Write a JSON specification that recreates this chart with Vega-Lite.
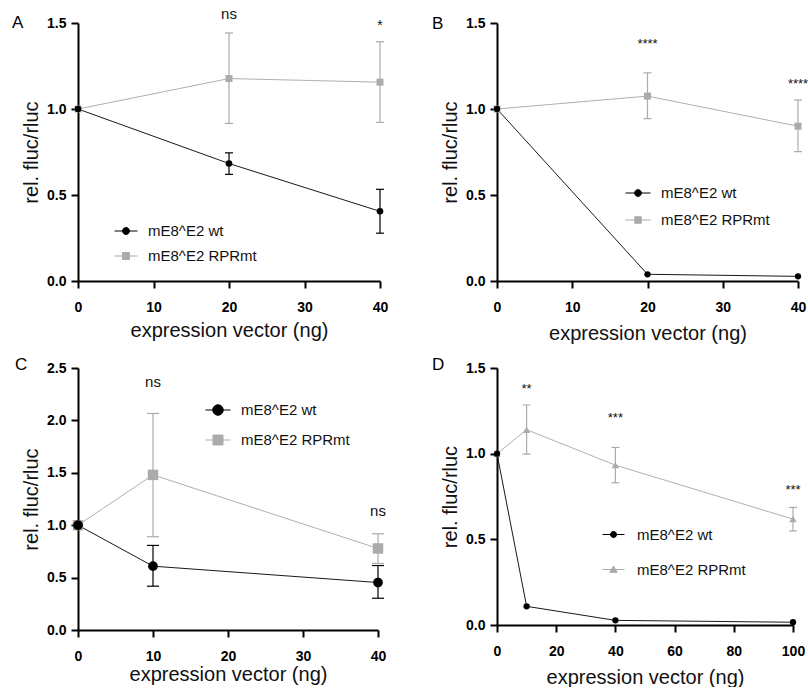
{
  "$schema": "https://vega.github.io/schema/vega-lite/v6.json",
  "background": "white",
  "padding": {"left": 12, "top": 7, "right": 0, "bottom": 0},
  "bounds": "flush",
  "columns": 2,
  "spacing": {"row": 87, "column": 117},
  "resolve": {
    "scale": {"fill": "independent", "stroke": "independent", "shape": "independent"},
    "legend": {"fill": "independent", "stroke": "independent", "shape": "independent"}
  },
  "config": {
    "font": "Liberation Sans",
    "view": {"stroke": null},
    "axis": {"domainColor": "#000", "domainWidth": 2, "tickColor": "#000", "tickWidth": 2, "tickSize": 7, "labelFontSize": 14, "labelFontWeight": "bold", "labelColor": "#000", "titleFontWeight": "normal", "titleColor": "#111", "grid": false, "labelFlush": false, "labelOverlap": false},
    "axisX": {"labelPadding": 12, "titleFontSize": 20, "titlePadding": 6, "format": "d"},
    "axisY": {"labelPadding": 5, "titleFontSize": 20, "titlePadding": 5, "format": ".1f"},
    "legend": {"padding": 0, "symbolStrokeWidth": 1, "symbolOpacity": 1, "labelFontSize": 15, "labelColor": "#111", "labelOffset": 10, "labelFont": "Liberation Sans", "labelLimit": 300},
    "title": {"anchor": "start", "frame": "group", "baseline": "alphabetic", "fontSize": 17, "fontWeight": "normal", "color": "#000"}
  },
  "concat": [
    {
      "width": 302, "height": 258,
      "title": {"text": "A", "dx": -66, "offset": -25},
      "data": {"values": [
        {"series": "mE8^E2 RPRmt", "x": 0, "y": 1.0, "lo": null, "hi": null},
        {"series": "mE8^E2 RPRmt", "x": 20, "y": 1.177, "lo": 0.916, "hi": 1.442},
        {"series": "mE8^E2 RPRmt", "x": 40, "y": 1.156, "lo": 0.922, "hi": 1.391},
        {"series": "mE8^E2 wt", "x": 0, "y": 1.0, "lo": null, "hi": null},
        {"series": "mE8^E2 wt", "x": 20, "y": 0.683, "lo": 0.62, "hi": 0.745},
        {"series": "mE8^E2 wt", "x": 40, "y": 0.405, "lo": 0.278, "hi": 0.533}
      ]},
      "encoding": {
        "x": {"field": "x", "type": "quantitative", "scale": {"domain": [0, 40], "nice": false}, "axis": {"values": [0, 10, 20, 30, 40], "title": "expression vector (ng)"}}
      },
      "layer": [
        {"transform": [{"filter": "datum.lo != null"}], "mark": {"type": "rule", "strokeWidth": 1.2},
         "encoding": {"y": {"field": "lo", "type": "quantitative", "scale": {"domain": [0, 1.5], "nice": false}, "title": "rel. fluc/rluc", "axis": {"values": [0, 0.5, 1, 1.5]}}, "y2": {"field": "hi"},
          "color": {"condition": {"test": "datum.series === 'mE8^E2 wt'", "value": "#000000"}, "value": "#ababab"}}},
        {"transform": [{"filter": "datum.lo != null"}], "mark": {"type": "tick", "orient": "horizontal", "size": 8, "thickness": 1.2, "opacity": 1},
         "encoding": {"y": {"field": "lo", "type": "quantitative", "scale": {"domain": [0, 1.5], "nice": false}, "title": "rel. fluc/rluc", "axis": {"values": [0, 0.5, 1, 1.5]}},
          "color": {"condition": {"test": "datum.series === 'mE8^E2 wt'", "value": "#000000"}, "value": "#ababab"}}},
        {"transform": [{"filter": "datum.lo != null"}], "mark": {"type": "tick", "orient": "horizontal", "size": 8, "thickness": 1.2, "opacity": 1},
         "encoding": {"y": {"field": "hi", "type": "quantitative", "scale": {"domain": [0, 1.5], "nice": false}, "title": "rel. fluc/rluc", "axis": {"values": [0, 0.5, 1, 1.5]}},
          "color": {"condition": {"test": "datum.series === 'mE8^E2 wt'", "value": "#000000"}, "value": "#ababab"}}},
        {"mark": {"type": "line", "strokeWidth": 1},
         "encoding": {"y": {"field": "y", "type": "quantitative", "scale": {"domain": [0, 1.5], "nice": false}, "title": "rel. fluc/rluc", "axis": {"values": [0, 0.5, 1, 1.5]}},
          "detail": {"field": "series", "type": "nominal"},
          "color": {"condition": {"test": "datum.series === 'mE8^E2 wt'", "value": "#1a1a1a"}, "value": "#b0b0b0"}}},
        {"mark": {"type": "point", "filled": true, "opacity": 1},
         "encoding": {"y": {"field": "y", "type": "quantitative", "scale": {"domain": [0, 1.5], "nice": false}, "title": "rel. fluc/rluc", "axis": {"values": [0, 0.5, 1, 1.5]}},
          "color": {"condition": {"test": "datum.series === 'mE8^E2 wt'", "value": "#000000"}, "value": "#ababab"},
          "shape": {"condition": {"test": "datum.series === 'mE8^E2 wt'", "value": "circle"}, "value": "square"},
          "size": {"condition": {"test": "datum.series === 'mE8^E2 wt'", "value": 44}, "value": 49}}},
        {"mark": {"type": "point", "filled": true, "opacity": 0},
         "encoding": {"y": {"field": "y", "type": "quantitative", "scale": {"domain": [0, 1.5], "nice": false}, "title": "rel. fluc/rluc", "axis": {"values": [0, 0.5, 1, 1.5]}},
          "fill": {"field": "series", "type": "nominal", "scale": {"domain": ["mE8^E2 wt", "mE8^E2 RPRmt"], "range": ["#000000", "#ababab"]}, "legend": {"orient": "none", "title": null, "legendX": 36, "legendY": 196, "symbolSize": 529, "rowPadding": 5}},
          "stroke": {"field": "series", "type": "nominal", "scale": {"domain": ["mE8^E2 wt", "mE8^E2 RPRmt"], "range": ["#000000", "#ababab"]}, "legend": {"orient": "none", "title": null, "legendX": 36, "legendY": 196, "symbolSize": 529, "rowPadding": 5}},
          "shape": {"field": "series", "type": "nominal", "scale": {"domain": ["mE8^E2 wt", "mE8^E2 RPRmt"], "range": ["M-1,0H1M0.3,0A0.3,0.3 0 1,1 -0.3,0A0.3,0.3 0 1,1 0.3,0Z", "M-1,0H1M-0.3,-0.3H0.3V0.3H-0.3Z"]}, "legend": {"orient": "none", "title": null, "legendX": 36, "legendY": 196, "symbolSize": 529, "rowPadding": 5}}}},
        {"data": {"values": [{"x": 20, "y": 1.55, "label": "ns"}, {"x": 40, "y": 1.485, "label": "*"}]},
         "mark": {"type": "text", "baseline": "middle", "color": "#111"},
         "encoding": {"y": {"field": "y", "type": "quantitative", "scale": {"domain": [0, 1.5], "nice": false}, "title": "rel. fluc/rluc", "axis": {"values": [0, 0.5, 1, 1.5]}},
          "text": {"field": "label"},
          "size": {"condition": {"test": "datum.label === 'ns'", "value": 15}, "value": 14}}}
      ]
    },
    {
      "width": 301, "height": 258,
      "title": {"text": "B", "dx": -65, "offset": -17},
      "data": {"values": [
        {"series": "mE8^E2 RPRmt", "x": 0, "y": 1.0, "lo": null, "hi": null},
        {"series": "mE8^E2 RPRmt", "x": 20, "y": 1.075, "lo": 0.944, "hi": 1.21},
        {"series": "mE8^E2 RPRmt", "x": 40, "y": 0.90, "lo": 0.752, "hi": 1.052},
        {"series": "mE8^E2 wt", "x": 0, "y": 1.0, "lo": null, "hi": null},
        {"series": "mE8^E2 wt", "x": 20, "y": 0.039, "lo": null, "hi": null},
        {"series": "mE8^E2 wt", "x": 40, "y": 0.027, "lo": null, "hi": null}
      ]},
      "encoding": {
        "x": {"field": "x", "type": "quantitative", "scale": {"domain": [0, 40], "nice": false}, "axis": {"values": [0, 10, 20, 30, 40], "title": "expression vector (ng)", "titlePadding": 9}}
      },
      "layer": [
        {"transform": [{"filter": "datum.lo != null"}], "mark": {"type": "rule", "strokeWidth": 1.2},
         "encoding": {"y": {"field": "lo", "type": "quantitative", "scale": {"domain": [0, 1.5], "nice": false}, "title": "rel. fluc/rluc", "axis": {"values": [0, 0.5, 1, 1.5]}}, "y2": {"field": "hi"},
          "color": {"condition": {"test": "datum.series === 'mE8^E2 wt'", "value": "#000000"}, "value": "#ababab"}}},
        {"transform": [{"filter": "datum.lo != null"}], "mark": {"type": "tick", "orient": "horizontal", "size": 8, "thickness": 1.2, "opacity": 1},
         "encoding": {"y": {"field": "lo", "type": "quantitative", "scale": {"domain": [0, 1.5], "nice": false}, "title": "rel. fluc/rluc", "axis": {"values": [0, 0.5, 1, 1.5]}},
          "color": {"condition": {"test": "datum.series === 'mE8^E2 wt'", "value": "#000000"}, "value": "#ababab"}}},
        {"transform": [{"filter": "datum.lo != null"}], "mark": {"type": "tick", "orient": "horizontal", "size": 8, "thickness": 1.2, "opacity": 1},
         "encoding": {"y": {"field": "hi", "type": "quantitative", "scale": {"domain": [0, 1.5], "nice": false}, "title": "rel. fluc/rluc", "axis": {"values": [0, 0.5, 1, 1.5]}},
          "color": {"condition": {"test": "datum.series === 'mE8^E2 wt'", "value": "#000000"}, "value": "#ababab"}}},
        {"mark": {"type": "line", "strokeWidth": 1},
         "encoding": {"y": {"field": "y", "type": "quantitative", "scale": {"domain": [0, 1.5], "nice": false}, "title": "rel. fluc/rluc", "axis": {"values": [0, 0.5, 1, 1.5]}},
          "detail": {"field": "series", "type": "nominal"},
          "color": {"condition": {"test": "datum.series === 'mE8^E2 wt'", "value": "#1a1a1a"}, "value": "#b0b0b0"}}},
        {"mark": {"type": "point", "filled": true, "opacity": 1},
         "encoding": {"y": {"field": "y", "type": "quantitative", "scale": {"domain": [0, 1.5], "nice": false}, "title": "rel. fluc/rluc", "axis": {"values": [0, 0.5, 1, 1.5]}},
          "color": {"condition": {"test": "datum.series === 'mE8^E2 wt'", "value": "#000000"}, "value": "#ababab"},
          "shape": {"condition": {"test": "datum.series === 'mE8^E2 wt'", "value": "circle"}, "value": "square"},
          "size": {"condition": {"test": "datum.series === 'mE8^E2 wt'", "value": 40}, "value": 49}}},
        {"mark": {"type": "point", "filled": true, "opacity": 0},
         "encoding": {"y": {"field": "y", "type": "quantitative", "scale": {"domain": [0, 1.5], "nice": false}, "title": "rel. fluc/rluc", "axis": {"values": [0, 0.5, 1, 1.5]}},
          "fill": {"field": "series", "type": "nominal", "scale": {"domain": ["mE8^E2 wt", "mE8^E2 RPRmt"], "range": ["#000000", "#ababab"]}, "legend": {"orient": "none", "title": null, "legendX": 128, "legendY": 157, "symbolSize": 625, "rowPadding": 6}},
          "stroke": {"field": "series", "type": "nominal", "scale": {"domain": ["mE8^E2 wt", "mE8^E2 RPRmt"], "range": ["#000000", "#ababab"]}, "legend": {"orient": "none", "title": null, "legendX": 128, "legendY": 157, "symbolSize": 625, "rowPadding": 6}},
          "shape": {"field": "series", "type": "nominal", "scale": {"domain": ["mE8^E2 wt", "mE8^E2 RPRmt"], "range": ["M-1,0H1M0.27,0A0.27,0.27 0 1,1 -0.27,0A0.27,0.27 0 1,1 0.27,0Z", "M-1,0H1M-0.26,-0.26H0.26V0.26H-0.26Z"]}, "legend": {"orient": "none", "title": null, "legendX": 128, "legendY": 157, "symbolSize": 625, "rowPadding": 6}}}},
        {"data": {"values": [{"x": 20, "y": 1.38, "label": "****"}, {"x": 40, "y": 1.145, "label": "****"}]},
         "mark": {"type": "text", "baseline": "middle", "color": "#111", "fontSize": 13},
         "encoding": {"y": {"field": "y", "type": "quantitative", "scale": {"domain": [0, 1.5], "nice": false}, "title": "rel. fluc/rluc", "axis": {"values": [0, 0.5, 1, 1.5]}},
          "text": {"field": "label"}}}
      ]
    },
    {
      "width": 300, "height": 262,
      "title": {"text": "C", "dx": -63, "offset": -13},
      "data": {"values": [
        {"series": "mE8^E2 RPRmt", "x": 0, "y": 1.0, "lo": null, "hi": null},
        {"series": "mE8^E2 RPRmt", "x": 10, "y": 1.48, "lo": 0.89, "hi": 2.066},
        {"series": "mE8^E2 RPRmt", "x": 40, "y": 0.778, "lo": 0.635, "hi": 0.918},
        {"series": "mE8^E2 wt", "x": 0, "y": 1.0, "lo": null, "hi": null},
        {"series": "mE8^E2 wt", "x": 10, "y": 0.609, "lo": 0.418, "hi": 0.807},
        {"series": "mE8^E2 wt", "x": 40, "y": 0.453, "lo": 0.303, "hi": 0.615}
      ]},
      "encoding": {
        "x": {"field": "x", "type": "quantitative", "scale": {"domain": [0, 40], "nice": false}, "axis": {"values": [0, 10, 20, 30, 40], "title": "expression vector (ng)", "titlePadding": 1}}
      },
      "layer": [
        {"transform": [{"filter": "datum.lo != null"}], "mark": {"type": "rule", "strokeWidth": 1.2},
         "encoding": {"y": {"field": "lo", "type": "quantitative", "scale": {"domain": [0, 2.5], "nice": false}, "title": "rel. fluc/rluc", "axis": {"values": [0, 0.5, 1, 1.5, 2, 2.5]}}, "y2": {"field": "hi"},
          "color": {"condition": {"test": "datum.series === 'mE8^E2 wt'", "value": "#000000"}, "value": "#ababab"}}},
        {"transform": [{"filter": "datum.lo != null"}], "mark": {"type": "tick", "orient": "horizontal", "size": 12, "thickness": 1.2, "opacity": 1},
         "encoding": {"y": {"field": "lo", "type": "quantitative", "scale": {"domain": [0, 2.5], "nice": false}, "title": "rel. fluc/rluc", "axis": {"values": [0, 0.5, 1, 1.5, 2, 2.5]}},
          "color": {"condition": {"test": "datum.series === 'mE8^E2 wt'", "value": "#000000"}, "value": "#ababab"}}},
        {"transform": [{"filter": "datum.lo != null"}], "mark": {"type": "tick", "orient": "horizontal", "size": 12, "thickness": 1.2, "opacity": 1},
         "encoding": {"y": {"field": "hi", "type": "quantitative", "scale": {"domain": [0, 2.5], "nice": false}, "title": "rel. fluc/rluc", "axis": {"values": [0, 0.5, 1, 1.5, 2, 2.5]}},
          "color": {"condition": {"test": "datum.series === 'mE8^E2 wt'", "value": "#000000"}, "value": "#ababab"}}},
        {"mark": {"type": "line", "strokeWidth": 1},
         "encoding": {"y": {"field": "y", "type": "quantitative", "scale": {"domain": [0, 2.5], "nice": false}, "title": "rel. fluc/rluc", "axis": {"values": [0, 0.5, 1, 1.5, 2, 2.5]}},
          "detail": {"field": "series", "type": "nominal"},
          "color": {"condition": {"test": "datum.series === 'mE8^E2 wt'", "value": "#1a1a1a"}, "value": "#b0b0b0"}}},
        {"mark": {"type": "point", "filled": true, "opacity": 1},
         "encoding": {"y": {"field": "y", "type": "quantitative", "scale": {"domain": [0, 2.5], "nice": false}, "title": "rel. fluc/rluc", "axis": {"values": [0, 0.5, 1, 1.5, 2, 2.5]}},
          "color": {"condition": {"test": "datum.series === 'mE8^E2 wt'", "value": "#000000"}, "value": "#ababab"},
          "shape": {"condition": {"test": "datum.series === 'mE8^E2 wt'", "value": "circle"}, "value": "square"},
          "size": {"condition": {"test": "datum.series === 'mE8^E2 wt'", "value": 95}, "value": 110}}},
        {"mark": {"type": "point", "filled": true, "opacity": 0},
         "encoding": {"y": {"field": "y", "type": "quantitative", "scale": {"domain": [0, 2.5], "nice": false}, "title": "rel. fluc/rluc", "axis": {"values": [0, 0.5, 1, 1.5, 2, 2.5]}},
          "fill": {"field": "series", "type": "nominal", "scale": {"domain": ["mE8^E2 wt", "mE8^E2 RPRmt"], "range": ["#000000", "#ababab"]}, "legend": {"orient": "none", "title": null, "legendX": 127, "legendY": 29, "symbolSize": 625, "rowPadding": 9}},
          "stroke": {"field": "series", "type": "nominal", "scale": {"domain": ["mE8^E2 wt", "mE8^E2 RPRmt"], "range": ["#000000", "#ababab"]}, "legend": {"orient": "none", "title": null, "legendX": 127, "legendY": 29, "symbolSize": 625, "rowPadding": 9}},
          "shape": {"field": "series", "type": "nominal", "scale": {"domain": ["mE8^E2 wt", "mE8^E2 RPRmt"], "range": ["M-1,0H1M0.42,0A0.42,0.42 0 1,1 -0.42,0A0.42,0.42 0 1,1 0.42,0Z", "M-1,0H1M-0.4,-0.4H0.4V0.4H-0.4Z"]}, "legend": {"orient": "none", "title": null, "legendX": 127, "legendY": 29, "symbolSize": 625, "rowPadding": 9}}}},
        {"data": {"values": [{"x": 10, "y": 2.37, "label": "ns"}, {"x": 40, "y": 1.14, "label": "ns"}]},
         "mark": {"type": "text", "baseline": "middle", "color": "#111", "fontSize": 15},
         "encoding": {"y": {"field": "y", "type": "quantitative", "scale": {"domain": [0, 2.5], "nice": false}, "title": "rel. fluc/rluc", "axis": {"values": [0, 0.5, 1, 1.5, 2, 2.5]}},
          "text": {"field": "label"}}}
      ]
    },
    {
      "width": 296, "height": 257,
      "title": {"text": "D", "dx": -65, "offset": -13},
      "data": {"values": [
        {"series": "mE8^E2 RPRmt", "x": 0, "y": 1.0, "lo": null, "hi": null},
        {"series": "mE8^E2 RPRmt", "x": 10, "y": 1.14, "lo": 0.997, "hi": 1.284},
        {"series": "mE8^E2 RPRmt", "x": 40, "y": 0.933, "lo": 0.83, "hi": 1.036},
        {"series": "mE8^E2 RPRmt", "x": 100, "y": 0.618, "lo": 0.549, "hi": 0.686},
        {"series": "mE8^E2 wt", "x": 0, "y": 1.0, "lo": null, "hi": null},
        {"series": "mE8^E2 wt", "x": 10, "y": 0.109, "lo": null, "hi": null},
        {"series": "mE8^E2 wt", "x": 40, "y": 0.027, "lo": null, "hi": null},
        {"series": "mE8^E2 wt", "x": 100, "y": 0.016, "lo": null, "hi": null}
      ]},
      "encoding": {
        "x": {"field": "x", "type": "quantitative", "scale": {"domain": [0, 100], "nice": false}, "axis": {"values": [0, 20, 40, 60, 80, 100], "title": "expression vector (ng)", "titlePadding": 9}}
      },
      "layer": [
        {"transform": [{"filter": "datum.lo != null"}], "mark": {"type": "rule", "strokeWidth": 1.2},
         "encoding": {"y": {"field": "lo", "type": "quantitative", "scale": {"domain": [0, 1.5], "nice": false}, "title": "rel. fluc/rluc", "axis": {"values": [0, 0.5, 1, 1.5]}}, "y2": {"field": "hi"},
          "color": {"condition": {"test": "datum.series === 'mE8^E2 wt'", "value": "#000000"}, "value": "#ababab"}}},
        {"transform": [{"filter": "datum.lo != null"}], "mark": {"type": "tick", "orient": "horizontal", "size": 8, "thickness": 1.2, "opacity": 1},
         "encoding": {"y": {"field": "lo", "type": "quantitative", "scale": {"domain": [0, 1.5], "nice": false}, "title": "rel. fluc/rluc", "axis": {"values": [0, 0.5, 1, 1.5]}},
          "color": {"condition": {"test": "datum.series === 'mE8^E2 wt'", "value": "#000000"}, "value": "#ababab"}}},
        {"transform": [{"filter": "datum.lo != null"}], "mark": {"type": "tick", "orient": "horizontal", "size": 8, "thickness": 1.2, "opacity": 1},
         "encoding": {"y": {"field": "hi", "type": "quantitative", "scale": {"domain": [0, 1.5], "nice": false}, "title": "rel. fluc/rluc", "axis": {"values": [0, 0.5, 1, 1.5]}},
          "color": {"condition": {"test": "datum.series === 'mE8^E2 wt'", "value": "#000000"}, "value": "#ababab"}}},
        {"mark": {"type": "line", "strokeWidth": 1},
         "encoding": {"y": {"field": "y", "type": "quantitative", "scale": {"domain": [0, 1.5], "nice": false}, "title": "rel. fluc/rluc", "axis": {"values": [0, 0.5, 1, 1.5]}},
          "detail": {"field": "series", "type": "nominal"},
          "color": {"condition": {"test": "datum.series === 'mE8^E2 wt'", "value": "#1a1a1a"}, "value": "#b0b0b0"}}},
        {"mark": {"type": "point", "filled": true, "opacity": 1},
         "encoding": {"y": {"field": "y", "type": "quantitative", "scale": {"domain": [0, 1.5], "nice": false}, "title": "rel. fluc/rluc", "axis": {"values": [0, 0.5, 1, 1.5]}},
          "color": {"condition": {"test": "datum.series === 'mE8^E2 wt'", "value": "#000000"}, "value": "#ababab"},
          "shape": {"condition": {"test": "datum.series === 'mE8^E2 wt'", "value": "circle"}, "value": "triangle-up"},
          "size": {"condition": {"test": "datum.series === 'mE8^E2 wt'", "value": 40}, "value": 55}}},
        {"mark": {"type": "point", "filled": true, "opacity": 0},
         "encoding": {"y": {"field": "y", "type": "quantitative", "scale": {"domain": [0, 1.5], "nice": false}, "title": "rel. fluc/rluc", "axis": {"values": [0, 0.5, 1, 1.5]}},
          "fill": {"field": "series", "type": "nominal", "scale": {"domain": ["mE8^E2 wt", "mE8^E2 RPRmt"], "range": ["#000000", "#ababab"]}, "legend": {"orient": "none", "title": null, "legendX": 105, "legendY": 155, "symbolSize": 484, "rowPadding": 15, "labelOffset": 12}},
          "stroke": {"field": "series", "type": "nominal", "scale": {"domain": ["mE8^E2 wt", "mE8^E2 RPRmt"], "range": ["#000000", "#ababab"]}, "legend": {"orient": "none", "title": null, "legendX": 105, "legendY": 155, "symbolSize": 484, "rowPadding": 15, "labelOffset": 12}},
          "shape": {"field": "series", "type": "nominal", "scale": {"domain": ["mE8^E2 wt", "mE8^E2 RPRmt"], "range": ["M-1,0H1M0.28,0A0.28,0.28 0 1,1 -0.28,0A0.28,0.28 0 1,1 0.28,0Z", "M-1,0H1M0,-0.32L0.34,0.26L-0.34,0.26Z"]}, "legend": {"orient": "none", "title": null, "legendX": 105, "legendY": 155, "symbolSize": 484, "rowPadding": 15, "labelOffset": 12}}}},
        {"data": {"values": [{"x": 10, "y": 1.375, "label": "**"}, {"x": 40, "y": 1.21, "label": "***"}, {"x": 100, "y": 0.79, "label": "***"}]},
         "mark": {"type": "text", "baseline": "middle", "color": "#111", "fontSize": 13},
         "encoding": {"y": {"field": "y", "type": "quantitative", "scale": {"domain": [0, 1.5], "nice": false}, "title": "rel. fluc/rluc", "axis": {"values": [0, 0.5, 1, 1.5]}},
          "text": {"field": "label"}}}
      ]
    }
  ]
}
